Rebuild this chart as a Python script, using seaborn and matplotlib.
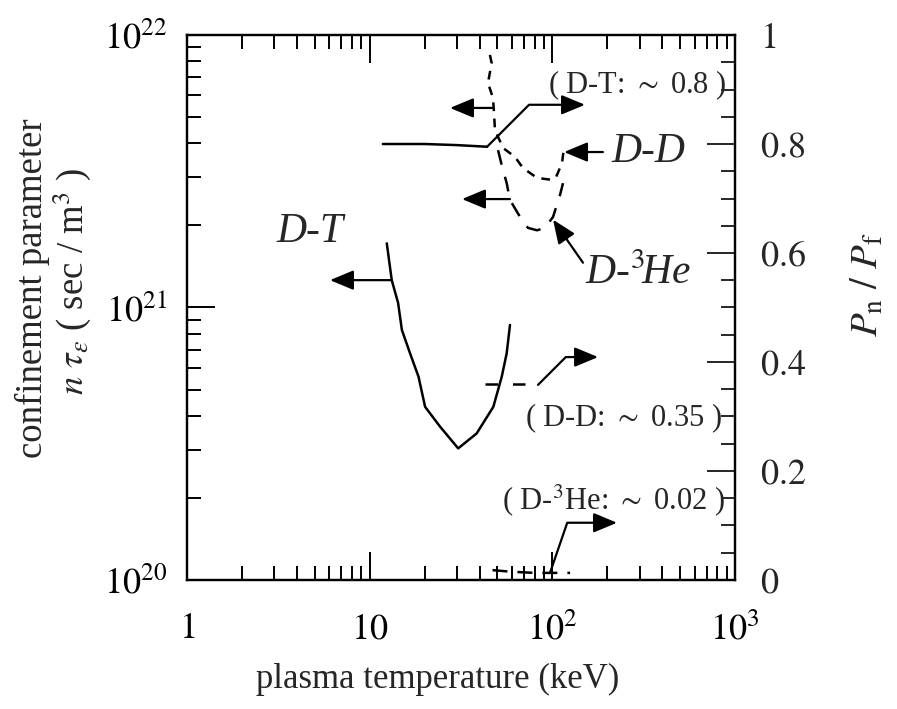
import numpy as np
import pandas as pd
import matplotlib
matplotlib.use("Agg")
import matplotlib.pyplot as plt
from matplotlib import ticker
import seaborn as sns

# --- data ---
# ignition curves, n*tau vs plasma temperature (left axis)
dt_temp = [12.4, 13.2, 14.3, 15.0, 16.6, 18.5, 20.1, 24.3, 30.5, 38.5, 47.5, 52.8, 56.2, 58.6]
dt_ntau = [1.72e21, 1.26e21, 1.04e21, 8.27e20, 6.81e20, 5.57e20, 4.32e20,
           3.65e20, 3.04e20, 3.45e20, 4.32e20, 5.57e20, 6.79e20, 8.63e20]

dd_temp = [45.5, 46.5, 44.4, 47.3, 47.9, 48.5, 53.7, 62.4, 69.0, 82.4, 99.5, 104.7, 112.9, 115.8]
dd_ntau = [8.45e21, 7.89e21, 6.67e21, 5.87e21, 5.17e21, 4.48e21, 3.85e21,
           3.57e21, 3.25e21, 2.99e21, 2.94e21, 3.01e21, 3.39e21, 3.88e21]

dhe_temp = [50.4, 52.8, 56.2, 58.6, 66.5, 73.5, 82.4, 91.1, 100.8, 110.1, 114.3]
dhe_ntau = [3.78e21, 3.33e21, 2.86e21, 2.48e21, 2.15e21, 1.96e21, 1.92e21,
            1.96e21, 2.15e21, 2.59e21, 2.86e21]

# neutron power fraction Pn/Pf (right axis)
dt_pn_temp = [11.8, 20.0, 30.0, 43.9]
dt_pn = [0.800, 0.800, 0.798, 0.795]
dd_pn_temp = [42.8, 60.0, 80.3]
dd_pn = [0.36, 0.36, 0.36]
dhe_pn_temp = [47.0, 60.0, 80.0, 125.0]
dhe_pn = [0.018, 0.015, 0.013, 0.013]

x_ticks = [1, 10, 100, 1000]
x_ticklabels = ['$1$', '$10$', '$10^2$', '$10^3$']
y_ticks = [1e20, 1e21, 1e22]
y_ticklabels = ['$10^{20}$', '$10^{21}$', '$10^{22}$']
r_ticks = [0, 0.2, 0.4, 0.6, 0.8, 1.0]
r_ticklabels = ['$0$', '$0.2$', '$0.4$', '$0.6$', '$0.8$', '$1$']

sns.set_style("ticks")
plt.rcParams['font.family'] = ['Liberation Serif', 'DejaVu Serif']
plt.rcParams['mathtext.fontset'] = 'stix'
plt.rcParams['axes.linewidth'] = 1.6

fig = plt.figure(figsize=(8.97, 7.09), dpi=100)
ax = fig.add_axes([0.2085, 0.182, 0.611, 0.7686])
ax2 = ax.twinx()

lw = 1.8
sns.lineplot(x=dt_temp, y=dt_ntau, ax=ax, sort=False, estimator=None, color='black', lw=lw)
sns.lineplot(x=dd_temp, y=dd_ntau, ax=ax, sort=False, estimator=None, color='black', lw=lw,
             dashes=(3.5, 3))
sns.lineplot(x=dhe_temp, y=dhe_ntau, ax=ax, sort=False, estimator=None, color='black', lw=lw,
             dashes=(6, 5))

sns.lineplot(x=dt_pn_temp, y=dt_pn, ax=ax2, sort=False, estimator=None, color='black', lw=lw)
sns.lineplot(x=dd_pn_temp, y=dd_pn, ax=ax2, sort=False, estimator=None, color='black', lw=lw,
             dashes=(5, 6))
sns.lineplot(x=dhe_pn_temp, y=dhe_pn, ax=ax2, sort=False, estimator=None, color='black', lw=lw,
             dashes=(6, 4))

# axes setup
ax.set_xscale('log')
ax.set_yscale('log')
ax.set_xlim(1, 1000)
ax.set_ylim(1e20, 1e22)
ax2.set_ylim(0, 1)

ax.set_xticks(x_ticks)
ax.set_xticklabels(x_ticklabels)
ax.set_yticks(y_ticks)
ax.set_yticklabels(y_ticklabels)
ax.xaxis.set_minor_formatter(ticker.NullFormatter())
ax.yaxis.set_minor_formatter(ticker.NullFormatter())
ax2.set_yticks(r_ticks)
ax2.set_yticklabels(r_ticklabels)
ax2.yaxis.set_minor_locator(ticker.MultipleLocator(0.05))

ax.tick_params(which='both', direction='in', top=True, right=False, width=1.4,
               labelsize=26, pad=14, colors='black')
ax.tick_params(axis='x', which='both', pad=24)
ax.tick_params(which='major', length=20)
ax.tick_params(which='minor', length=10)
ax2.tick_params(which='both', direction='in', width=1.4, labelsize=26, pad=18)
ax2.tick_params(which='major', length=20)
ax2.tick_params(which='minor', length=10)
for a in (ax, ax2):
    for s in a.spines.values():
        s.set_color('black')
        s.set_linewidth(1.6)

# axis titles placed in figure coordinates
fig.text(0.488, 0.041, 'plasma temperature (keV)', fontsize=25, ha='center', va='center')
fig.text(0.036, 0.594, 'confinement parameter', fontsize=26.5, rotation=90,
         ha='center', va='center')
fig.text(0.080, 0.603, r'$n\ \tau_{\varepsilon}$ ( sec / m$^3$ )', fontsize=26.5, rotation=90,
         ha='center', va='center')
fig.text(0.968, 0.598, r'$P_{\rm n}\ /\ P_{\rm f}$', fontsize=28, rotation=90,
         ha='center', va='center')

# curve labels
ax.text(0.2245, 0.6385, 'D-T', transform=ax.transAxes, fontsize=30, style='italic',
        ha='center', va='center')
ax.text(0.841, 0.785, 'D-D', transform=ax.transAxes, fontsize=30, style='italic',
        ha='center', va='center')
ax.text(0.823, 0.563, r'D-$^3\!$He', transform=ax.transAxes, fontsize=30, style='italic',
        ha='center', va='center')
ax.text(0.821, 0.908, r'( D-T: $\sim$ 0.8 )', transform=ax.transAxes, fontsize=22,
        ha='center', va='center')
ax.text(0.796, 0.297, r'( D-D: $\sim$ 0.35 )', transform=ax.transAxes, fontsize=22,
        ha='center', va='center')
ax.text(0.779, 0.147, r'( D-$^3$He: $\sim$ 0.02 )', transform=ax.transAxes, fontsize=22,
        ha='center', va='center')

# arrows
arrow = dict(arrowstyle='-|>,head_length=0.6,head_width=0.25', color='black', lw=1.6,
             mutation_scale=24, shrinkA=0, shrinkB=0)
ax.annotate('', xy=(6.06, 1.26e21), xytext=(13.2, 1.26e21), arrowprops=arrow)
ax.annotate('', xy=(27.5, 5.4e21), xytext=(46.7, 5.4e21), arrowprops=arrow)
ax.annotate('', xy=(32.0, 2.5e21), xytext=(58.6, 2.5e21), arrowprops=arrow)
ax.annotate('', xy=(115.8, 3.72e21), xytext=(189, 3.72e21), arrowprops=arrow)
ax.annotate('', xy=(100.8, 2.1e21), xytext=(147, 1.46e21), arrowprops=arrow)

ax2.annotate('', xy=(150.8, 0.872), xytext=(43.9, 0.795),
             arrowprops=dict(arrow, connectionstyle='angle,angleA=45,angleB=0,rad=0'))
ax2.annotate('', xy=(177.8, 0.409), xytext=(83.4, 0.358),
             arrowprops=dict(arrow, connectionstyle='angle,angleA=45,angleB=0,rad=0'))
ax2.annotate('', xy=(225.8, 0.105), xytext=(97, 0.013),
             arrowprops=dict(arrow, connectionstyle='angle,angleA=71,angleB=0,rad=0'))

fig.savefig('out.png', dpi=100, facecolor='white')
